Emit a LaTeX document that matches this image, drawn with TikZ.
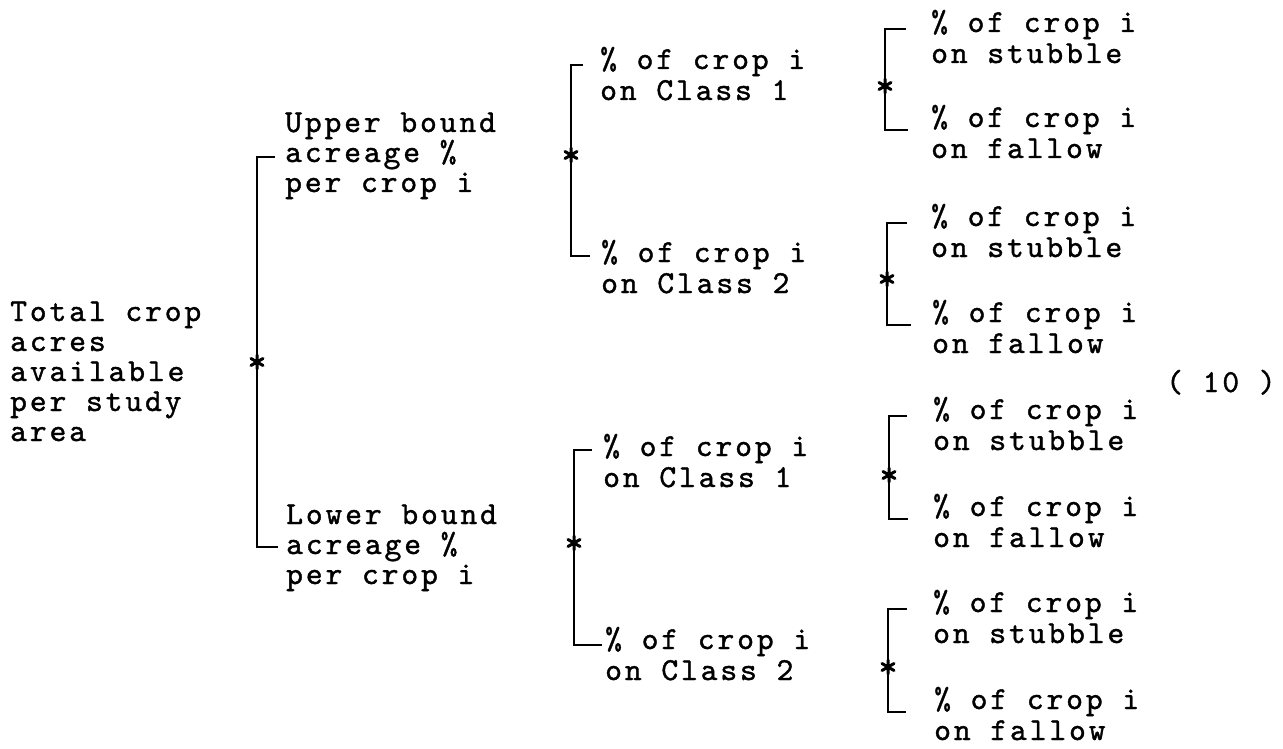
\documentclass[tikz,border=0pt]{standalone}
\usepackage{fontspec}
\newfontfamily\tw[LetterSpace=9,FakeBold=1.2]{lmmono10-regular.otf}
% stacked lines with a fixed baseline distance; the box's baseline is the first line
\newcommand\lbl[2][31pt]{\vtop{\baselineskip=#1\lineskiplimit=-100pt\lineskip=0pt\halign{##\hfil\cr#2\crcr}}}
\tikzset{
  lab/.style={anchor=base west, inner sep=0pt, font=\tw\fontsize{32}{31}\selectfont},
  brk/.style={line width=1.6pt},
  astx/.pic={\draw[line width=3pt,line cap=round]
    (0pt,-7pt)--(0pt,7pt) (-6pt,-3.5pt)--(6pt,3.5pt) (-6pt,3.5pt)--(6pt,-3.5pt);
    \fill (0pt,0pt) circle[radius=3pt];}
}
\begin{document}
\begin{tikzpicture}[x=1pt,y=1pt]
\useasboundingbox (0,0) rectangle (1283,-749);

% root
\node[lab] (tot) at (10,-321) {\lbl[30pt]{Total crop\cr acres\cr available\cr per study\cr area}};

% bounds
\node[lab] (ub) at (285,-132) {\lbl[30pt]{Upper bound\cr acreage \%\cr per crop i}};
\node[lab] (lb) at (286,-524) {\lbl[30pt]{Lower bound\cr acreage \%\cr per crop i}};

% land classes
\node[lab] (c1u) at (600,-69)  {\lbl{\% of crop i\cr on Class 1}};
\node[lab] (c2u) at (601,-262) {\lbl{\% of crop i\cr on Class 2}};
\node[lab] (c1l) at (603,-456) {\lbl{\% of crop i\cr on Class 1}};
\node[lab] (c2l) at (605,-649) {\lbl{\% of crop i\cr on Class 2}};

% stubble / fallow
\node[lab] (s1) at (931,-32)  {\lbl{\% of crop i\cr on stubble}};
\node[lab] (f1) at (931,-127) {\lbl{\% of crop i\cr on fallow}};
\node[lab] (s2) at (931,-226) {\lbl{\% of crop i\cr on stubble}};
\node[lab] (f2) at (932,-322) {\lbl{\% of crop i\cr on fallow}};
\node[lab] (s3) at (933,-419) {\lbl{\% of crop i\cr on stubble}};
\node[lab] (f3) at (933,-516) {\lbl{\% of crop i\cr on fallow}};
\node[lab] (s4) at (933,-612) {\lbl{\% of crop i\cr on stubble}};
\node[lab] (f4) at (934,-709) {\lbl{\% of crop i\cr on fallow}};

% equation number
\node[lab] (eqn) at (1166,-392) {( 10 )};

% junctions
\coordinate (j0) at (257,-362);
\coordinate (j1) at (571,-155);
\coordinate (j2) at (574,-543);
\coordinate (j3) at (885,-86);
\coordinate (j4) at (887,-279);
\coordinate (j5) at (889,-475);
\coordinate (j6) at (888,-667);

% tick ends
\coordinate (ub-t)  at ([shift={(-10,-25)}]ub.base west);
\coordinate (lb-t)  at ([shift={(-8,-23)}]lb.base west);
\coordinate (c1u-t) at ([shift={(-17,4)}]c1u.base west);
\coordinate (c2u-t) at ([shift={(-11,6)}]c2u.base west);
\coordinate (c1l-t) at ([shift={(-11,6)}]c1l.base west);
\coordinate (c2l-t) at ([shift={(-3,4)}]c2l.base west);
\coordinate (s1-t) at ([shift={(-25,3)}]s1.base west);
\coordinate (f1-t) at ([shift={(-23,-3)}]f1.base west);
\coordinate (s2-t) at ([shift={(-24,3)}]s2.base west);
\coordinate (f2-t) at ([shift={(-21,-3)}]f2.base west);
\coordinate (s3-t) at ([shift={(-26,3)}]s3.base west);
\coordinate (f3-t) at ([shift={(-25,-3)}]f3.base west);
\coordinate (s4-t) at ([shift={(-26,3)}]s4.base west);
\coordinate (f4-t) at ([shift={(-28,-3)}]f4.base west);

% brackets
\draw[brk] (ub-t)  -| (j0) |- (lb-t);
\draw[brk] (c1u-t) -| (j1) |- (c2u-t);
\draw[brk] (c1l-t) -| (j2) |- (c2l-t);
\draw[brk] (s1-t) -| (j3) |- (f1-t);
\draw[brk] (s2-t) -| (j4) |- (f2-t);
\draw[brk] (s3-t) -| (j5) |- (f3-t);
\draw[brk] (s4-t) -| (j6) |- (f4-t);

% asterisks on the brackets
\foreach \j in {j0,j1,j2,j3,j4,j5,j6} \pic at (\j) {astx};
\end{tikzpicture}
\end{document}
